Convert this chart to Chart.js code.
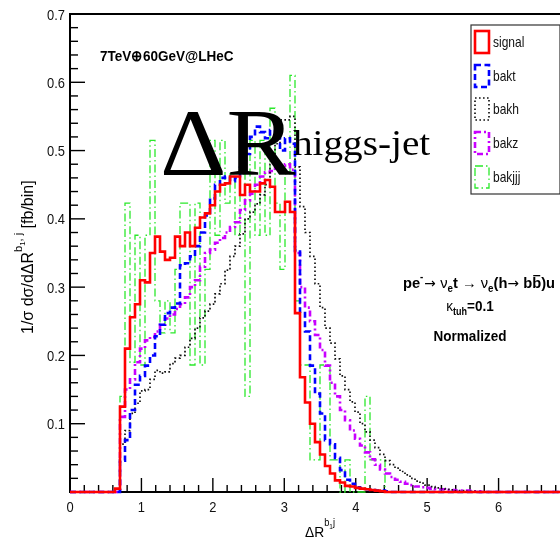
<!DOCTYPE html>
<html>
<head>
<meta charset="utf-8">
<script src="https://cdn.jsdelivr.net/npm/chart.js@4.4.1/dist/chart.umd.min.js"></script>
<style>
  html, body { margin: 0; padding: 0; background: #fff; overflow: hidden; }
  #wrap { position: relative; width: 580px; height: 551px; }
</style>
</head>
<body>
<div id="wrap"><canvas id="dr" width="580" height="551"></canvas></div>
<script>
// 100 bins of 0.07 between 0 and 7, normalised distributions
const binWidth = 0.07;

const signal = [
  0, 0, 0, 0, 0, 0, 0, 0, 0, 0.005,
  0.125, 0.21, 0.256, 0.275, 0.31, 0.307, 0.35, 0.374, 0.352, 0.34,
  0.343, 0.374, 0.36, 0.38, 0.36, 0.387, 0.402, 0.408, 0.42, 0.44,
  0.45, 0.452, 0.462, 0.462, 0.435, 0.45, 0.44, 0.44, 0.452, 0.457,
  0.447, 0.41, 0.41, 0.425, 0.41, 0.262, 0.168, 0.131, 0.1, 0.073,
  0.055, 0.038, 0.027, 0.017, 0.014, 0.009, 0.008, 0.006, 0.005, 0.004,
  0.003, 0.002, 0.001, 0, 0, 0, 0, 0, 0, 0,
  0, 0, 0, 0, 0, 0, 0, 0, 0, 0,
  0, 0, 0, 0, 0, 0, 0, 0, 0, 0,
  0, 0, 0, 0, 0, 0, 0, 0, 0, 0,
];

const bakt = [
  0, 0, 0, 0, 0, 0, 0, 0, 0, 0,
  0.046, 0.076, 0.12, 0.157, 0.17, 0.185, 0.2, 0.228, 0.245, 0.262,
  0.27, 0.276, 0.332, 0.335, 0.345, 0.36, 0.38, 0.405, 0.43, 0.45,
  0.46, 0.462, 0.455, 0.46, 0.475, 0.495, 0.52, 0.535, 0.527, 0.518,
  0.53, 0.525, 0.5, 0.518, 0.51, 0.354, 0.262, 0.235, 0.185, 0.144,
  0.115, 0.076, 0.07, 0.05, 0.032, 0.018, 0.012, 0.007, 0.005, 0.004,
  0.003, 0.002, 0.002, 0.001, 0, 0, 0, 0, 0, 0,
  0, 0, 0, 0, 0, 0, 0, 0, 0, 0,
  0, 0, 0, 0, 0, 0, 0, 0, 0, 0,
  0, 0, 0, 0, 0, 0, 0, 0, 0, 0,
];

const bakh = [
  0, 0, 0, 0, 0, 0, 0, 0, 0, 0,
  0.07, 0.09, 0.115, 0.13, 0.148, 0.15, 0.165, 0.178, 0.174, 0.176,
  0.188, 0.196, 0.2, 0.212, 0.225, 0.24, 0.255, 0.265, 0.275, 0.29,
  0.305, 0.325, 0.345, 0.36, 0.378, 0.4, 0.41, 0.422, 0.435, 0.45,
  0.48, 0.51, 0.545, 0.545, 0.55, 0.476, 0.418, 0.38, 0.345, 0.305,
  0.27, 0.24, 0.218, 0.195, 0.17, 0.15, 0.132, 0.117, 0.1, 0.088,
  0.076, 0.065, 0.055, 0.046, 0.04, 0.035, 0.03, 0.025, 0.02, 0.016,
  0.013, 0.01, 0.008, 0.006, 0.005, 0.004, 0.003, 0.002, 0.002, 0.001,
  0.001, 0, 0, 0, 0, 0, 0, 0, 0, 0,
  0, 0, 0, 0, 0, 0, 0, 0, 0, 0,
];

const bakz = [
  0, 0, 0, 0, 0, 0, 0, 0, 0, 0,
  0.11, 0.15, 0.165, 0.19, 0.21, 0.222, 0.227, 0.235, 0.245, 0.254,
  0.26, 0.268, 0.275, 0.285, 0.3, 0.31, 0.33, 0.35, 0.355, 0.365,
  0.372, 0.38, 0.388, 0.395, 0.413, 0.427, 0.437, 0.45, 0.462, 0.468,
  0.47, 0.474, 0.478, 0.48, 0.472, 0.35, 0.3, 0.27, 0.25, 0.23,
  0.208, 0.185, 0.16, 0.14, 0.12, 0.105, 0.09, 0.078, 0.068, 0.058,
  0.048, 0.04, 0.033, 0.027, 0.022, 0.018, 0.015, 0.012, 0.01, 0.008,
  0.007, 0.006, 0.005, 0.004, 0.004, 0.003, 0.003, 0.002, 0.002, 0.002,
  0.001, 0.001, 0, 0, 0, 0, 0, 0, 0, 0,
  0, 0, 0, 0, 0, 0, 0, 0, 0, 0,
];

const bakjjj = [
  0, 0, 0, 0, 0, 0, 0, 0, 0, 0,
  0.14, 0.423, 0.19, 0.376, 0.186, 0.376, 0.515, 0.28, 0.233, 0.28,
  0.233, 0.326, 0.423, 0.423, 0.186, 0.423, 0.186, 0.326, 0.515, 0.376,
  0.515, 0.423, 0.466, 0.376, 0.466, 0.14, 0.515, 0.376, 0.515, 0.376,
  0.562, 0.423, 0.326, 0.466, 0.61, 0.28, 0.186, 0.186, 0.047, 0.047,
  0.186, 0.186, 0.047, 0.047, 0, 0.047, 0, 0, 0, 0.14,
  0.047, 0.047, 0.047, 0, 0, 0, 0, 0, 0, 0,
  0, 0, 0, 0, 0, 0, 0, 0, 0, 0,
  0, 0, 0, 0, 0, 0, 0, 0, 0, 0,
  0, 0, 0, 0, 0, 0, 0, 0, 0, 0,
];

const seriesNames = ["signal", "bakt", "bakh", "bakz", "bakjjj"];
const xTickLabels = ["0", "1", "2", "3", "4", "5", "6"];
const yTickLabels = ["0.1", "0.2", "0.3", "0.4", "0.5", "0.6", "0.7"];

const lineStyle = {
  signal: { color: "#ff0000", width: 2.6, dash: [] },
  bakt:   { color: "#0000ff", width: 2.6, dash: [6, 3.5] },
  bakh:   { color: "#111111", width: 1.7, dash: [1.6, 2.4] },
  bakz:   { color: "#c800ff", width: 2.6, dash: [6, 3, 2, 3] },
  bakjjj: { color: "#2be82b", width: 1.3, dash: [8, 3, 1.5, 3] },
};

// lower bin edges plus the closing edge at 7
const binEdges = signal.map((_, i) => +(i * binWidth).toFixed(2)).concat([7]);

function histPoints(values) {
  const pts = values.map((v, i) => ({ x: binEdges[i], y: v }));
  pts.push({ x: binEdges[values.length], y: values[values.length - 1] });
  return pts;
}

const seriesValues = { signal, bakt, bakh, bakz, bakjjj };

const FONT = "'Liberation Sans', Arial, sans-serif";
const SERIF = "'Liberation Serif', 'Times New Roman', serif";

function drawText(ctx, str, x, y, font, opts = {}) {
  const { align = "left", sx = 1, color = "#000", base = "alphabetic" } = opts;
  ctx.save();
  ctx.translate(x, y);
  ctx.scale(sx, 1);
  ctx.font = font;
  ctx.fillStyle = color;
  ctx.textAlign = align;
  ctx.textBaseline = base;
  ctx.fillText(str, 0, 0);
  ctx.restore();
}

// text made of pieces with their own font and vertical shift
function richText(ctx, parts, x, y, opts = {}) {
  const { align = "left", sx = 1, rot = 0 } = opts;
  ctx.save();
  ctx.translate(x, y);
  if (rot) ctx.rotate(rot);
  ctx.scale(sx, 1);
  let total = 0;
  parts.forEach(p => {
    ctx.font = p.f;
    p.w = ctx.measureText(p.t).width + (p.gap || 0);
    total += p.w;
  });
  let cx = align === "center" ? -total / 2 : align === "right" ? -total : 0;
  ctx.textAlign = "left";
  ctx.textBaseline = "alphabetic";
  ctx.fillStyle = "#000";
  parts.forEach(p => {
    ctx.font = p.f;
    ctx.fillText(p.t, cx, p.dy || 0);
    if (p.bar) ctx.fillRect(cx + 1, (p.dy || 0) - p.bar, p.w - (p.gap || 0) - 2, 1.3);
    cx += p.w;
  });
  ctx.restore();
}

function seg(ctx, x1, y1, x2, y2) {
  ctx.beginPath();
  ctx.moveTo(x1, y1);
  ctx.lineTo(x2, y2);
  ctx.stroke();
}

const framePlugin = {
  id: "frame",
  beforeDatasetsDraw(chart) {
    const { ctx, chartArea: a, scales: { x, y } } = chart;
    ctx.save();
    ctx.strokeStyle = "#000";
    ctx.lineWidth = 2;
    ctx.strokeRect(a.left, a.top, a.right - a.left, a.bottom - a.top);
    ctx.lineWidth = 1.4;
    // y ticks every 0.02, long ones every 0.1
    for (let i = 1; i <= 35; i++) {
      const py = y.getPixelForValue(i * 0.02);
      seg(ctx, a.left, py, a.left + (i % 5 === 0 ? 15 : 8), py);
    }
    // x ticks every 0.2, long ones every 1
    for (let i = 1; i < 35; i++) {
      const px = x.getPixelForValue(i * 0.2);
      seg(ctx, px, a.bottom, px, a.bottom - (i % 5 === 0 ? 14 : 7));
    }
    ctx.restore();
  },
  afterDatasetsDraw(chart) {
    const { ctx, chartArea: a, scales: { x, y } } = chart;

    yTickLabels.forEach(lab => {
      drawText(ctx, lab, a.left - 5, y.getPixelForValue(+lab) + 5.5, "15px " + FONT,
        { align: "right", sx: 0.86, color: "#111" });
    });
    xTickLabels.forEach(lab => {
      drawText(ctx, lab, x.getPixelForValue(+lab), a.bottom + 20, "15px " + FONT,
        { align: "center", sx: 0.86, color: "#111" });
    });

    // axis titles
    richText(ctx, [
      { t: "ΔR", f: "15px " + FONT },
      { t: "b", f: "10px " + FONT, dy: -11 },
      { t: "1", f: "7px " + FONT, dy: -8 },
      { t: "j", f: "10px " + FONT, dy: -11 },
    ], 305, 537, { sx: 0.92 });

    richText(ctx, [
      { t: "1/σ dσ/dΔR", f: "16px " + FONT },
      { t: "b", f: "11px " + FONT, dy: -11 },
      { t: "1", f: "8px " + FONT, dy: -8 },
      { t: ", j", f: "11px " + FONT, dy: -11 },
      { t: " [fb/bin]", f: "16px " + FONT, gap: 2 },
    ], 33, 334, { rot: -Math.PI / 2, sx: 1.0 });

    // collider label
    drawText(ctx, "7TeV⊕60GeV@LHeC", 100, 61, "bold 15px " + FONT, { sx: 0.9 });

    // large observable name
    drawText(ctx, "ΔR", 160, 175, "95px " + SERIF, { sx: 1.09 });
    drawText(ctx, "higgs-jet", 293, 155, "35px " + SERIF, { sx: 1.12 });

    // process description
    const B = "bold 15px " + FONT;
    const SUB = "bold 10px " + FONT;
    const AR = "14px 'DejaVu Sans', " + FONT;
    richText(ctx, [
      { t: "pe", f: B },
      { t: "-", f: "bold 10px " + FONT, dy: -8, gap: 1 },
      { t: "→ ", f: AR },
      { t: "ν", f: "15px " + FONT },
      { t: "e", f: SUB, dy: 4 },
      { t: "t → ", f: B },
      { t: "ν", f: "15px " + FONT },
      { t: "e", f: SUB, dy: 4 },
      { t: "(h", f: B },
      { t: "→ ", f: AR },
      { t: "b", f: B },
      { t: "b", f: B, bar: 13 },
      { t: ")u", f: B },
    ], 479, 288, { align: "center", sx: 0.98 });
    richText(ctx, [
      { t: "κ", f: "15px " + FONT },
      { t: "tuh", f: SUB, dy: 4 },
      { t: "=0.1", f: B },
    ], 470, 311, { align: "center", sx: 0.9 });
    drawText(ctx, "Normalized", 470, 341, "bold 15px " + FONT, { align: "center", sx: 0.9 });

    // legend
    ctx.save();
    const lx = 471, ly = 25, lw = 89, lh = 169;
    ctx.fillStyle = "#fff";
    ctx.fillRect(lx, ly, lw, lh);
    ctx.strokeStyle = "#333";
    ctx.lineWidth = 1.2;
    ctx.strokeRect(lx, ly, lw, lh);
    const rows = [31, 65, 98, 132, 166];
    seriesNames.forEach((name, i) => {
      const st = lineStyle[name];
      ctx.save();
      ctx.strokeStyle = st.color;
      ctx.lineWidth = st.width;
      ctx.setLineDash(st.dash);
      ctx.strokeRect(475, rows[i], 14, 22);
      ctx.restore();
      drawText(ctx, name, 493, rows[i] + 16, "15px " + FONT, { sx: 0.8, color: "#111" });
    });
    ctx.restore();
  },
};

const datasets = seriesNames.map(name => ({
  label: name,
  data: histPoints(seriesValues[name]),
  borderColor: lineStyle[name].color,
  borderWidth: lineStyle[name].width,
  borderDash: lineStyle[name].dash,
  borderCapStyle: "butt",
  borderJoinStyle: "miter",
  stepped: true,
  fill: false,
  pointRadius: 0,
  tension: 0,
  clip: false,
}));

new Chart(document.getElementById("dr"), {
  type: "line",
  data: { datasets },
  options: {
    responsive: false,
    animation: false,
    events: [],
    layout: { padding: { left: 70, right: 10, top: 14, bottom: 59 } },
    plugins: { legend: { display: false }, tooltip: { enabled: false } },
    scales: {
      x: { type: "linear", min: 0, max: 7, display: false },
      y: { min: 0, max: 0.7, display: false },
    },
  },
  plugins: [framePlugin],
});
</script>
</body>
</html>
